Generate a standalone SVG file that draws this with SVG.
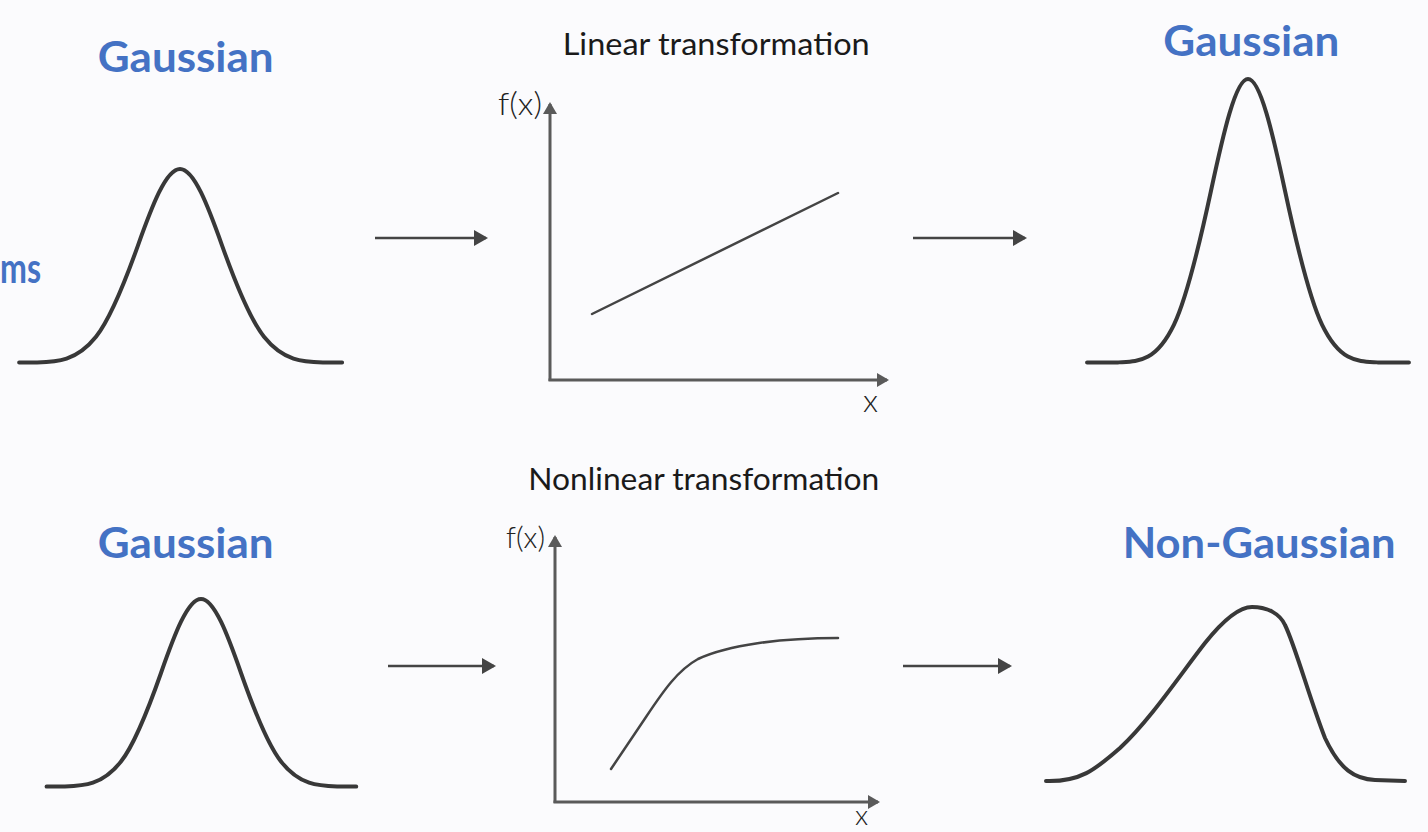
<svg xmlns="http://www.w3.org/2000/svg" width="1428" height="832" viewBox="0 0 1428 832">
<style>
.blue{font-family:Lato,"Liberation Sans",sans-serif;font-weight:bold;font-size:42px;fill:#4472C4}
.lbl{font-family:Lato,"Liberation Sans",sans-serif;font-weight:300;fill:#222}
.title{font-family:Lato,"Liberation Sans",sans-serif;font-weight:400;fill:#1a1a1a}
.curve{fill:none;stroke:#383838;stroke-width:4;stroke-linecap:round;vector-effect:non-scaling-stroke}
.axis{fill:none;stroke:#5a5a5a;stroke-width:3}
.fn{fill:none;stroke:#444;stroke-width:2.5;stroke-linecap:round}
.conn{fill:none;stroke:#444;stroke-width:2.3}
</style>
<defs>
<marker id="arr" markerUnits="userSpaceOnUse" markerWidth="14" markerHeight="16" refX="12" refY="8" orient="auto"><path d="M0,0 L14,8 L0,16 z" fill="#444"/></marker>
<marker id="ax" markerUnits="userSpaceOnUse" markerWidth="12" markerHeight="14" refX="10" refY="7" orient="auto"><path d="M0,0 L12,7 L0,14 z" fill="#5a5a5a"/></marker>
</defs>
<rect x="0" y="0" width="1428" height="832" fill="#fbfbfd"/>

<g id="label-ms"><text class="blue" x="0" y="283" textLength="41" lengthAdjust="spacingAndGlyphs">ms</text></g>

<g id="gauss-top-left">
<text class="blue" x="97.7" y="72" textLength="176" lengthAdjust="spacingAndGlyphs">Gaussian</text>
<path class="curve" transform="matrix(42,0,0,-194,180,363)" d="M-3.83 0.002 L-3.5 0.0022 C-3 0.006 -2.5 0 -2 0.1353 C-1.667 0.2255 -1.333 0.4043 -1 0.6065 C-0.667 0.8087 -0.333 1 0 1 C0.333 1 0.667 0.8087 1 0.6065 C1.333 0.4043 1.667 0.2255 2 0.1353 C2.5 0 3 0.006 3.5 0.0022 L3.86 0.002"/>
</g>

<g id="linear-chart">
<text class="title" x="562.7" y="55" font-size="30" textLength="307" lengthAdjust="spacingAndGlyphs">Linear transformation</text>
<text class="lbl" x="498" y="115" font-size="32" textLength="44" lengthAdjust="spacingAndGlyphs">f(x)</text>
<line class="axis" x1="550" y1="381" x2="550" y2="104" marker-end="url(#ax)"/>
<line class="axis" x1="548.5" y1="380" x2="887" y2="380" marker-end="url(#ax)"/>
<line class="fn" x1="592" y1="314" x2="838" y2="193"/>
<text class="lbl" x="863" y="412" font-size="32">x</text>
</g>

<g id="gauss-top-right">
<text class="blue" x="1163.3" y="56" textLength="176" lengthAdjust="spacingAndGlyphs">Gaussian</text>
<path class="curve" transform="matrix(37,0,0,-284,1248,363)" d="M-4.35 0.002 L-3.5 0.0022 C-3 0.006 -2.5 0 -2 0.1353 C-1.667 0.2255 -1.333 0.4043 -1 0.6065 C-0.667 0.8087 -0.333 1 0 1 C0.333 1 0.667 0.8087 1 0.6065 C1.333 0.4043 1.667 0.2255 2 0.1353 C2.5 0 3 0.006 3.5 0.0022 L4.35 0.002"/>
</g>

<g id="gauss-bottom-left">
<text class="blue" x="97.7" y="558" textLength="176" lengthAdjust="spacingAndGlyphs">Gaussian</text>
<path class="curve" transform="matrix(40,0,0,-188,201,787)" d="M-3.86 0.002 L-3.5 0.0022 C-3 0.006 -2.5 0 -2 0.1353 C-1.667 0.2255 -1.333 0.4043 -1 0.6065 C-0.667 0.8087 -0.333 1 0 1 C0.333 1 0.667 0.8087 1 0.6065 C1.333 0.4043 1.667 0.2255 2 0.1353 C2.5 0 3 0.006 3.5 0.0022 L3.88 0.002"/>
</g>

<g id="nonlinear-chart">
<text class="title" x="528.3" y="490" font-size="30" textLength="351" lengthAdjust="spacingAndGlyphs">Nonlinear transformation</text>
<text class="lbl" x="506" y="548" font-size="30" textLength="39" lengthAdjust="spacingAndGlyphs">f(x)</text>
<line class="axis" x1="555" y1="803" x2="555" y2="537" marker-end="url(#ax)"/>
<line class="axis" x1="553.5" y1="802" x2="878" y2="802" marker-end="url(#ax)"/>
<path class="fn" d="M611 769 L646 717 C664 690 678 670 698 659 C728 645 780 638 838 638"/>
<text class="lbl" x="855" y="825" font-size="28">x</text>
</g>

<g id="nongauss-bottom-right">
<text class="blue" x="1122.7" y="558" textLength="273" lengthAdjust="spacingAndGlyphs">Non-Gaussian</text>
<path class="curve" d="M1046 781 C1080 782 1095 770 1120 748 C1150 720 1180 675 1205 643 C1225 618 1240 607 1252 607 C1268 607 1280 614 1285 625 C1295 645 1310 700 1325 738 C1340 770 1355 779 1375 780 L1405 781"/>
</g>

<g id="connectors">
<line class="conn" x1="375" y1="238" x2="486" y2="238" marker-end="url(#arr)"/>
<line class="conn" x1="913" y1="238" x2="1025" y2="238" marker-end="url(#arr)"/>
<line class="conn" x1="388" y1="666" x2="494" y2="666" marker-end="url(#arr)"/>
<line class="conn" x1="903" y1="666" x2="1010" y2="666" marker-end="url(#arr)"/>
</g>
</svg>
